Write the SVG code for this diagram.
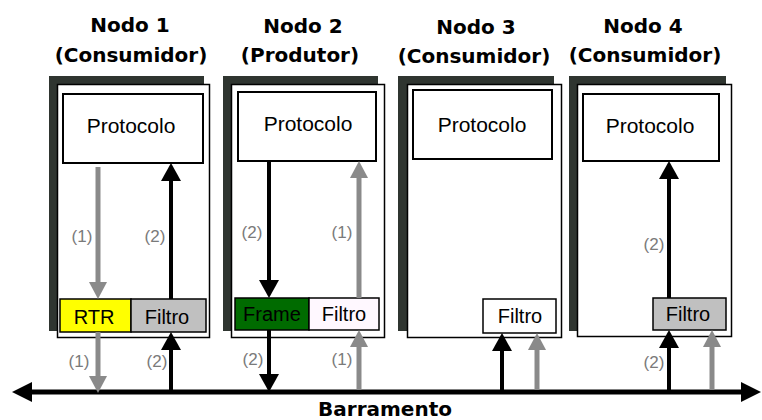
<svg xmlns="http://www.w3.org/2000/svg" width="762" height="420" viewBox="0 0 762 420">
<style>
.title{font-family:"DejaVu Sans",sans-serif;font-weight:bold;font-size:20px;fill:#000;text-anchor:middle}
.txt{font-family:"Liberation Sans",Arial,sans-serif;font-size:20px;fill:#000;text-anchor:middle}
.proto{font-family:"Liberation Sans",Arial,sans-serif;font-size:21px;fill:#000;text-anchor:middle}
.lbl{font-family:"Liberation Sans",Arial,sans-serif;font-size:17px;fill:#7a7a7a;text-anchor:middle}
.shadow{fill:#2f3530}
.frame{fill:#fff;stroke:#000;stroke-width:1.5}
.pbox{fill:#fff;stroke:#000;stroke-width:2}
.box{stroke:#000;stroke-width:1.5}
.blk{stroke:#000;stroke-width:4;fill:none}
.gry{stroke:#8a8a8a;stroke-width:5;fill:none}
</style>
<defs>
<marker id="hb" markerUnits="userSpaceOnUse" markerWidth="20" markerHeight="22" refX="0" refY="10" orient="auto" overflow="visible"><path d="M0,0 L18,10 L0,20 z" fill="#000"/></marker>
<marker id="hg" markerUnits="userSpaceOnUse" markerWidth="20" markerHeight="22" refX="0" refY="9" orient="auto" overflow="visible"><path d="M0,0 L17,9 L0,18 z" fill="#8a8a8a"/></marker>
<marker id="hbus" markerUnits="userSpaceOnUse" markerWidth="22" markerHeight="22" refX="0" refY="10" orient="auto-start-reverse" overflow="visible"><path d="M0,0 L20,10 L0,20 z" fill="#000"/></marker>
</defs>

<g id="node1">
<text class="title" x="130" y="32">Nodo 1</text>
<text class="title" x="131" y="62">(Consumidor)</text>
<rect class="shadow" x="49" y="76" width="155" height="255"/>
<rect class="frame" x="57.5" y="84.5" width="152" height="253"/>
<rect class="pbox" x="63" y="94" width="140" height="69"/>
<text class="proto" x="131" y="133">Protocolo</text>
<rect class="box" x="60" y="299" width="71" height="33" fill="#ffff00"/>
<text class="txt" x="94" y="324">RTR</text>
<rect class="box" x="131" y="299" width="75" height="33" fill="#c0c0c0"/>
<text class="txt" x="167" y="324">Filtro</text>
<text class="lbl" x="82" y="242">(1)</text>
<text class="lbl" x="155" y="242">(2)</text>
<text class="lbl" x="79" y="367">(1)</text>
<text class="lbl" x="157" y="367">(2)</text>
</g>

<g id="node2">
<text class="title" x="303" y="33">Nodo 2</text>
<text class="title" x="300" y="62">(Produtor)</text>
<rect class="shadow" x="223" y="76" width="155" height="255"/>
<rect class="frame" x="231.5" y="84.5" width="153" height="253"/>
<rect class="pbox" x="238" y="92" width="138" height="69"/>
<text class="proto" x="308" y="131">Protocolo</text>
<rect class="box" x="235" y="298" width="74" height="32" fill="#006b00"/>
<text class="txt" x="272" y="321">Frame</text>
<rect class="box" x="309" y="298" width="70" height="32" fill="#fff8ff"/>
<text class="txt" x="344" y="321">Filtro</text>
<text class="lbl" x="252" y="238">(2)</text>
<text class="lbl" x="342" y="238">(1)</text>
<text class="lbl" x="253" y="365">(2)</text>
<text class="lbl" x="342" y="365">(1)</text>
</g>

<g id="node3">
<text class="title" x="476" y="34">Nodo 3</text>
<text class="title" x="474" y="63">(Consumidor)</text>
<rect class="shadow" x="398" y="76" width="156" height="255"/>
<rect class="frame" x="407.5" y="84.5" width="154" height="253"/>
<rect class="pbox" x="413" y="90" width="139" height="69"/>
<text class="proto" x="482" y="132">Protocolo</text>
<rect class="box" x="483" y="299" width="73" height="34" fill="#fff"/>
<text class="txt" x="520" y="323">Filtro</text>
</g>

<g id="node4">
<text class="title" x="643" y="33">Nodo 4</text>
<text class="title" x="645" y="62">(Consumidor)</text>
<rect class="shadow" x="569" y="76" width="157" height="255"/>
<rect class="frame" x="577.5" y="84.5" width="154" height="252"/>
<rect class="pbox" x="583" y="94" width="136" height="67"/>
<text class="proto" x="650" y="133">Protocolo</text>
<rect class="box" x="653" y="298" width="73" height="32" fill="#c0c0c0"/>
<text class="txt" x="688" y="321">Filtro</text>
<text class="lbl" x="654" y="250">(2)</text>
<text class="lbl" x="654" y="368">(2)</text>
</g>

<g id="bus">
<line x1="32" y1="392" x2="741" y2="392" stroke="#000" stroke-width="5" marker-start="url(#hbus)" marker-end="url(#hbus)"/>
<text class="title" x="385" y="416">Barramento</text>
</g>

<g id="connectors">
<line class="gry" x1="98" y1="167" x2="98" y2="282" marker-end="url(#hg)"/>
<line class="blk" x1="171" y1="299" x2="171" y2="181" marker-end="url(#hb)"/>
<line class="gry" x1="98" y1="332" x2="98" y2="376" marker-end="url(#hg)"/>
<line class="blk" x1="171" y1="390" x2="171" y2="350" marker-end="url(#hb)"/>

<line class="blk" x1="269" y1="161" x2="269" y2="280" marker-end="url(#hb)"/>
<line class="gry" x1="359" y1="298" x2="359" y2="178" marker-end="url(#hg)"/>
<line class="blk" x1="269" y1="330" x2="269" y2="374" marker-end="url(#hb)"/>
<line class="gry" x1="359" y1="390" x2="359" y2="347" marker-end="url(#hg)"/>

<line class="blk" x1="502" y1="390" x2="502" y2="351" marker-end="url(#hb)"/>
<line class="gry" x1="537" y1="390" x2="537" y2="350" marker-end="url(#hg)"/>

<line class="blk" x1="669" y1="298" x2="669" y2="179" marker-end="url(#hb)"/>
<line class="blk" x1="669" y1="390" x2="669" y2="348" marker-end="url(#hb)"/>
<line class="gry" x1="712" y1="390" x2="712" y2="347" marker-end="url(#hg)"/>
</g>
</svg>
